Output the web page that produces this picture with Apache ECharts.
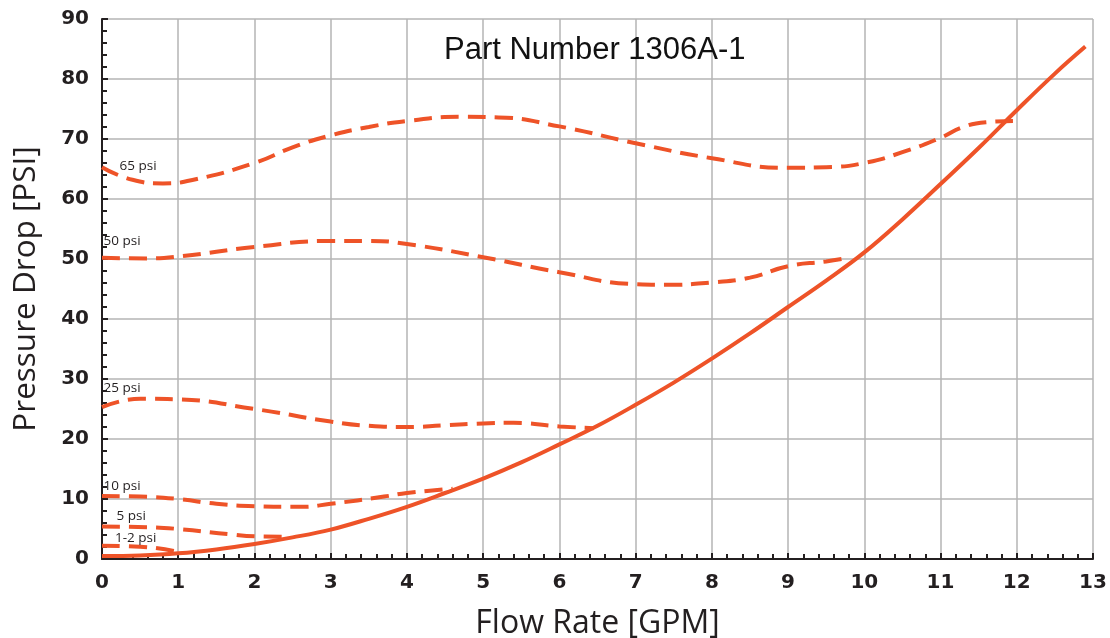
<!DOCTYPE html>
<html>
<head>
<meta charset="utf-8">
<script src="https://cdn.jsdelivr.net/npm/echarts@6/dist/echarts.min.js"></script>
<style>
  html, body { margin: 0; padding: 0; background: #fff; }
  #chart { width: 1110px; height: 638px; }
</style>
</head>
<body>
<div id="chart"></div>
<script>
// flow rate [GPM] vs pressure drop [PSI]
const mainCurve = [
  [0, 0.5], [0.5, 0.6], [1, 0.95], [1.5, 1.6], [2, 2.5], [2.5, 3.6], [3, 4.9],
  [3.5, 6.7], [4, 8.7], [4.5, 11], [5, 13.4], [5.5, 16.1], [6, 19.1], [6.5, 22.2],
  [7, 25.7], [7.5, 29.4], [8, 33.4], [8.5, 37.6], [9, 42], [9.5, 46.4],
  [10, 51.1], [10.5, 56.6], [11, 62.5], [11.5, 68.5], [12, 74.8],
  [12.5, 80.9], [12.9, 85.4]
];
const psi65 = [
  [0, 65.3], [0.4, 63.2], [0.8, 62.6], [1.2, 63.2], [2, 66], [2.5, 68.6], [3, 70.6],
  [3.5, 72], [4, 73], [4.7, 73.7], [5.2, 73.6], [6, 72.1], [7, 69.3], [8, 66.8],
  [9, 65.2], [9.5, 65.3], [10, 66], [10.5, 67.8], [11, 70.2], [11.3, 72],
  [11.6, 72.8], [11.95, 73]
];
const psi50 = [
  [0, 50.2], [0.6, 50.1], [1, 50.4], [2, 52], [3, 53], [3.5, 53], [4, 52.5],
  [5, 50.3], [6, 47.8], [7, 45.8], [7.4, 45.7], [8, 46.1], [8.5, 46.9],
  [9, 48.8], [9.5, 49.6], [9.8, 50.2]
];
const psi25 = [
  [0, 25.3], [0.5, 26.7], [1, 26.6], [2, 25], [3, 22.9], [3.5, 22.2], [4, 22],
  [4.5, 22.3], [5, 22.6], [5.4, 22.7], [6, 22.1], [6.45, 21.8]
];
const psi10 = [
  [0, 10.5], [0.5, 10.4], [1, 10], [1.5, 9.2], [2, 8.8], [2.6, 8.7], [3, 9.2],
  [3.7, 10.4], [4, 11], [4.6, 11.7]
];
const psi5 = [
  [0, 5.4], [0.6, 5.3], [1, 5], [1.7, 4.1], [2, 3.8], [2.45, 3.7]
];
const psi12 = [
  [0, 2.2], [0.5, 2.05], [1, 1.2]
];
const dashedSeries = [psi65, psi50, psi25, psi10, psi5, psi12];
const curveNames = ['65 psi', '50 psi', '25 psi', '10 psi', '5 psi', '1-2 psi'];
// where each curve label sits, in axis units
const labelAnchors = [[0.23, 65.4], [0.02, 52.9], [0.02, 28.4], [0.02, 12.2], [0.19, 7.2], [0.17, 3.5]];

const xTicks = [0, 13, 1];
const yTicks = [0, 90, 10];

const orange = '#EE5328';
const chart = echarts.init(document.getElementById('chart'));

const series = [
  {
    type: 'line',
    data: mainCurve,
    smooth: 0.4,
    showSymbol: false,
    lineStyle: { color: orange, width: 4 },
    z: 3
  }
];
dashedSeries.forEach((d, i) => {
  series.push({
    type: 'line',
    name: curveNames[i],
    data: d,
    smooth: true,
    showSymbol: false,
    lineStyle: { color: orange, width: 4, type: [18, 9] },
    markPoint: {
      symbol: 'circle',
      symbolSize: 0,
      data: [{ coord: labelAnchors[i], value: curveNames[i] }],
      label: {
        show: true,
        position: 'right',
        distance: 0,
        formatter: curveNames[i],
        color: '#231f20',
        fontFamily: 'Open Sans',
        fontSize: 13.5
      }
    }
  });
});

const option = {
  animation: false,
  title: {
    text: 'Part Number 1306A-1',
    left: 439,
    top: 30,
    textStyle: { fontFamily: 'Liberation Sans', fontWeight: 'normal', fontSize: 31, color: '#111' }
  },
  grid: { left: 102, right: 17, top: 19, bottom: 79, outerBoundsMode: 'none' },
  xAxis: {
    type: 'value',
    min: xTicks[0], max: xTicks[1], interval: xTicks[2],
    name: 'Flow Rate [GPM]',
    nameLocation: 'middle',
    nameGap: 49,
    nameTextStyle: { fontFamily: 'Open Sans', fontSize: 32, color: '#231f20' },
    axisLine: { lineStyle: { color: '#231f20', width: 2 } },
    axisTick: { inside: true, length: 6, lineStyle: { color: '#231f20', width: 2 } },
    minorTick: { show: true, splitNumber: 5, length: 5, lineStyle: { color: '#231f20', width: 2 } },
    axisLabel: { margin: 14, fontFamily: 'DejaVu Sans', fontWeight: 'bold', fontSize: 20, color: '#231f20' },
    splitLine: { show: true, lineStyle: { color: '#b4b4b4', width: 1.5 } }
  },
  yAxis: {
    type: 'value',
    min: yTicks[0], max: yTicks[1], interval: yTicks[2],
    name: 'Pressure Drop [PSI]',
    nameLocation: 'middle',
    nameGap: 60,
    nameTextStyle: { fontFamily: 'Open Sans', fontSize: 31.5, color: '#231f20' },
    axisLine: { show: true, lineStyle: { color: '#231f20', width: 2 } },
    axisTick: { show: true, inside: true, length: 6, lineStyle: { color: '#231f20', width: 2 } },
    minorTick: { show: true, splitNumber: 5, length: 5, lineStyle: { color: '#231f20', width: 2 } },
    axisLabel: { margin: 13, fontFamily: 'DejaVu Sans', fontWeight: 'bold', fontSize: 20, color: '#231f20' },
    splitLine: { show: true, lineStyle: { color: '#b4b4b4', width: 1.5 } }
  },
  series: series
};

chart.setOption(option);
window.addEventListener('resize', () => chart.resize());
</script>
</body>
</html>
